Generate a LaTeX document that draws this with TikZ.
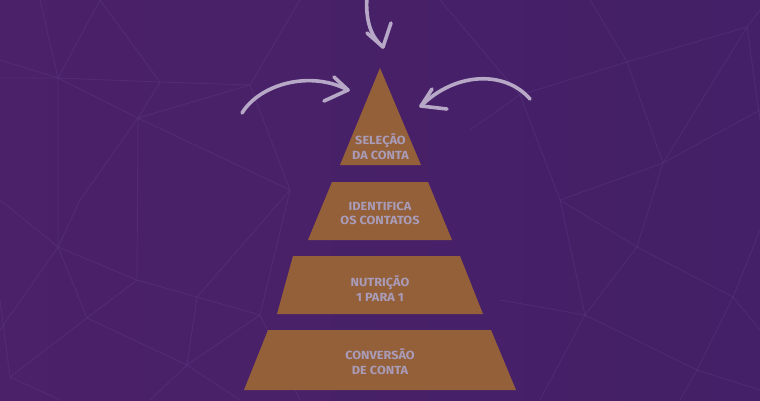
\documentclass[tikz,border=0pt]{standalone}
\usepackage{fontspec}
\setmainfont[FakeStretch=1.08]{Fira Sans}
\usetikzlibrary{calc}
\definecolor{bgL}{HTML}{4B2169}
\definecolor{bgR}{HTML}{432067}
\definecolor{netc}{HTML}{5A3582}
\definecolor{tier}{HTML}{94603A}
\definecolor{tiertext}{HTML}{A99CB8}
\definecolor{arrowc}{HTML}{B6A8C6}
\tikzset{
  tierbox/.style={fill=tier},
  tierlabel/.style={text=tiertext, font=\bfseries\fontsize{11.8}{14.8}\selectfont, align=center, inner sep=0pt},
  netline/.style={draw=netc, line width=0.9pt, opacity=0.5},
  arrowline/.style={draw=arrowc, line width=3.6pt, line cap=round, line join=round},
}
\begin{document}
\begin{tikzpicture}[x=1pt,y=-1pt]
\useasboundingbox (0,0) rectangle (760,400);
\shade[left color=bgL, right color=bgR] (0,0) rectangle (760,400);
% background network
\begin{scope}
\clip (0,0) rectangle (760,400);
\coordinate (v1) at (58,78);
\coordinate (v2) at (160,82);
\coordinate (v3) at (138,118);
\coordinate (v4) at (58,247);
\coordinate (v5) at (137,280);
\coordinate (v6) at (197,297);
\coordinate (v7) at (87,318);
\coordinate (v8) at (260,315);
\coordinate (v9) at (10,377);
\coordinate (v10) at (187,365);
\coordinate (v11) at (627,62);
\coordinate (v12) at (747,27);
\coordinate (v13) at (663,163);
\coordinate (v14) at (637,247);
\coordinate (v15) at (585,315);
\coordinate (v16) at (733,297);
\coordinate (v17) at (697,370);
\coordinate (v18) at (250,85);
\coordinate (v19) at (520,95);
\coordinate (v20) at (290,190);
\coordinate (v21) at (560,200);
\path[netline] (40,0) -- (v1) -- (100,0) -- (v2) -- (v3) -- (v1) -- (0,60);
\path[netline] (0,78) -- (v1) -- (v2) -- (v18);
\path[netline] (v1) -- (v4) -- (v5) -- (v6) -- (v8);
\path[netline] (v3) -- (v18) -- (300,0);
\path[netline] (v3) -- (80,200) -- (v4);
\path[netline] (v3) -- (v20) -- (v18);
\path[netline] (v4) -- (v7) -- (v5) -- (v3);
\path[netline] (v7) -- (v9) -- (0,300);
\path[netline] (v7) -- (v10) -- (v6) -- (v20);
\path[netline] (v10) -- (v8) -- (v20);
\path[netline] (v9) -- (60,400);
\path[netline] (v10) -- (150,400);
\path[netline] (v10) -- (240,400);
\path[netline] (0,200) -- (v4);
\path[netline] (v4) -- (0,330);
\path[netline] (v11) -- (v12) -- (760,10);
\path[netline] (v11) -- (590,0);
\path[netline] (v11) -- (v19) -- (440,0);
\path[netline] (v11) -- (v13) -- (v12);
\path[netline] (v19) -- (v21) -- (v13);
\path[netline] (v13) -- (v14) -- (v21);
\path[netline] (v14) -- (v16) -- (760,230);
\path[netline] (v14) -- (v15) -- (v21);
\path[netline] (v15) -- (v17) -- (v16);
\path[netline] (v15) -- (540,400);
\path[netline] (v17) -- (760,390);
\path[netline] (v17) -- (680,400);
\path[netline] (v12) -- (760,120);
\path[netline] (v16) -- (760,330);
\path[netline] (v13) -- (760,110);
\path[netline] (v15) -- (500,300);
\path[netline] (v8) -- (300,400);
\path[netline] (v19) -- (470,130);
\end{scope}
% pyramid tiers
\coordinate (t1a) at (380,68);
\coordinate (t1l) at (340,165);
\coordinate (t1r) at (421,165);
\fill[tierbox] (t1a) -- (t1r) -- (t1l) -- cycle;
\fill[tierbox] (332,182) -- (428,182) -- (452,240) -- (308,240) -- cycle;
\fill[tierbox] (293,256) -- (460,256) -- (483,314) -- (277,314) -- cycle;
\fill[tierbox] (268,330) -- (491,330) -- (516,390) -- (244,390) -- cycle;
\node[tierlabel] (s1) at (380.5,146.5) {SELEÇÃO\\DA CONTA};
\node[tierlabel] (s2) at (380,213.5) {IDENTIFICA\\OS CONTATOS};
\node[tierlabel] (s3) at (380,288.5) {NUTRIÇÃO\\1 PARA 1};
\node[tierlabel] (s4) at (380,361.5) {CONVERSÃO\\DE CONTA};
% arrows
\coordinate (aTs) at (367,-4);
\coordinate (aTt) at (383,47);
\coordinate (aLs) at (242,113);
\coordinate (aLt) at (348,90);
\coordinate (aRs) at (530,99);
\coordinate (aRt) at (421,106);
\draw[arrowline] (aTs) .. controls (365,22) and (372,38) .. (aTt);
\draw[arrowline] (367,33) -- (aTt) -- (391,23);
\draw[arrowline] (aLs) .. controls (260,84) and (310,70) .. (aLt);
\draw[arrowline] (334,77) -- (aLt) -- (324,101);
\draw[arrowline] (aRs) .. controls (505,70) and (455,72) .. (aRt);
\draw[arrowline] (432,89) -- (aRt) -- (447,109);
\end{tikzpicture}
\end{document}
